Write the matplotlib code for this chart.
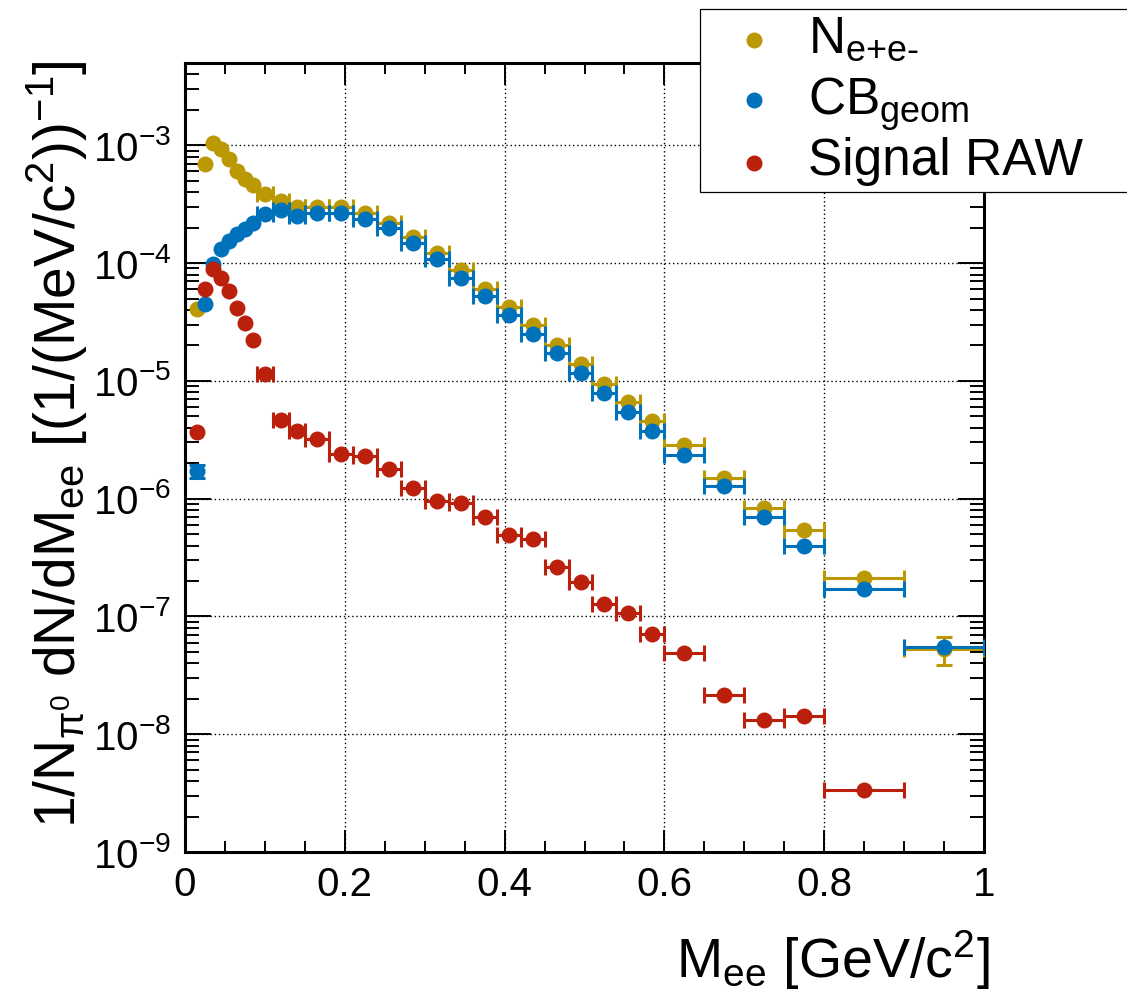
import numpy as np
import matplotlib
matplotlib.use("Agg")
import matplotlib.pyplot as plt
from matplotlib.lines import Line2D
from matplotlib.patches import Rectangle
from matplotlib.ticker import (LogLocator, MultipleLocator, NullFormatter,
                               FuncFormatter, LogFormatterSciNotation)

plt.rcParams["font.family"] = ["Liberation Sans", "DejaVu Sans"]
plt.rcParams["mathtext.fontset"] = "custom"
plt.rcParams["mathtext.rm"] = "Liberation Sans"
plt.rcParams["mathtext.it"] = "Liberation Sans:italic"
plt.rcParams["mathtext.bf"] = "Liberation Sans:bold"
plt.rcParams["mathtext.default"] = "regular"

# ---- binning in M_ee [GeV/c^2] ----
bin_edges = [0.01, 0.02, 0.03, 0.04, 0.05, 0.06, 0.07, 0.08, 0.09,
             0.11, 0.13, 0.15, 0.18, 0.21, 0.24, 0.27, 0.30, 0.33, 0.36,
             0.39, 0.42, 0.45, 0.48, 0.51, 0.54, 0.57, 0.60,
             0.65, 0.70, 0.75, 0.80, 0.90, 1.00]

# ---- spectra: 1/N_pi0 dN/dM_ee ----
n_ee = [4.05e-5, 6.9e-4, 1.04e-3, 9.25e-4, 7.7e-4, 6.05e-4, 5.2e-4, 4.6e-4,
        3.84e-4, 3.4e-4, 3.0e-4, 3.0e-4, 3.0e-4, 2.68e-4, 2.21e-4, 1.68e-4,
        1.21e-4, 8.7e-5, 6.07e-5, 4.22e-5, 3.0e-5, 2.02e-5, 1.38e-5, 9.35e-6,
        6.62e-6, 4.57e-6, 2.86e-6, 1.51e-6, 8.4e-7, 5.43e-7, 2.11e-7, 5.3e-8]
cb_geom = [1.72e-6, 4.47e-5, 9.8e-5, 1.33e-4, 1.54e-4, 1.75e-4, 1.96e-4, 2.21e-4,
           2.6e-4, 2.83e-4, 2.51e-4, 2.65e-4, 2.66e-4, 2.35e-4, 1.97e-4, 1.49e-4,
           1.08e-4, 7.5e-5, 5.26e-5, 3.6e-5, 2.49e-5, 1.72e-5, 1.17e-5, 7.95e-6,
           5.44e-6, 3.76e-6, 2.34e-6, 1.27e-6, 7.05e-7, 3.97e-7, 1.72e-7, 5.51e-8]
signal_raw = [3.69e-6, 6.0e-5, 8.86e-5, 7.5e-5, 5.8e-5, 4.13e-5, 3.08e-5, 2.22e-5,
              1.15e-5, 4.66e-6, 3.76e-6, 3.19e-6, 2.41e-6, 2.31e-6, 1.78e-6, 1.24e-6,
              9.57e-7, 9.27e-7, 7.0e-7, 4.95e-7, 4.55e-7, 2.65e-7, 1.96e-7, 1.27e-7,
              1.06e-7, 7.07e-8, 4.94e-8, 2.16e-8, 1.31e-8, 1.43e-8, 3.35e-9, np.nan]

# statistical errors large enough to show outside the markers (0 = hidden)
n_ee_err = [0] * 31 + [1.45e-8]
cb_geom_err = [2.3e-7] + [0] * 31
signal_raw_err = [0] * 32

series_labels = ["N$_{e\\text{+}e\\text{-}}$", "CB$_{geom}$", "Signal RAW"]
series_colors = ["#bb9905", "#0071bb", "#bb200d"]

x_ticks = [0.0, 0.2, 0.4, 0.6, 0.8, 1.0]
x_title = "M$_{ee}$ [GeV/c$^{2}$]"
y_title = "1/N$_{\\pi^{0}}$ dN/dM$_{ee}$ [(1/(MeV/c$^{2}$))$^{-1}$]"

W, H = 1127, 998
fig = plt.figure(figsize=(W / 100, H / 100), dpi=100)
ax = fig.add_axes([185 / W, 1 - 852 / H, (984 - 185) / W, (852 - 63) / H])

edges = np.asarray(bin_edges)
xc = 0.5 * (edges[:-1] + edges[1:])
xhw = 0.5 * np.diff(edges)
wide = np.diff(edges) > 0.015   # narrow bins: x-error hidden by the marker

lw = 2.2
cap = 5.8
msize = 11.5
for k, (vals, errs, col) in enumerate(zip([n_ee, cb_geom, signal_raw],
                                          [n_ee_err, cb_geom_err, signal_raw_err],
                                          series_colors)):
    v = np.asarray(vals, float)
    e = np.asarray(errs, float)
    ok = np.isfinite(v)
    z = 3 + k
    m = ok & wide
    ax.errorbar(xc[m], v[m], xerr=xhw[m], fmt="none", ecolor=col,
                elinewidth=lw, capsize=cap, capthick=lw, zorder=z)
    my = ok & (e > 0)
    if my.any():
        ax.errorbar(xc[my], v[my], yerr=e[my], fmt="none", ecolor=col,
                    elinewidth=lw, capsize=cap, capthick=lw, zorder=z)
    ax.plot(xc[ok], v[ok], "o", ms=msize, color=col, mec="none",
            zorder=z + 0.5, clip_on=True)

ax.set_xlim(0, 1)
ax.set_yscale("log")
ax.set_ylim(1e-9, 5e-3)

ax.set_xticks(x_ticks)
ax.xaxis.set_minor_locator(MultipleLocator(0.05))
ax.xaxis.set_major_formatter(FuncFormatter(lambda v, p: f"{v:g}"))
ax.yaxis.set_major_locator(LogLocator(base=10, numticks=20))
ax.yaxis.set_minor_locator(LogLocator(base=10, subs=np.arange(2, 10), numticks=20))
ax.yaxis.set_major_formatter(LogFormatterSciNotation())
ax.yaxis.set_minor_formatter(NullFormatter())

ax.tick_params(which="both", direction="in", top=True, right=True,
               width=1.4, colors="black")
ax.tick_params(axis="x", which="major", length=16, labelsize=29, pad=10)
ax.tick_params(axis="x", which="minor", length=8)
ax.tick_params(axis="y", which="major", length=19, labelsize=29, pad=10)
ax.tick_params(axis="y", which="minor", length=10)

for s in ax.spines.values():
    s.set_linewidth(2.2)

ax.grid(True, which="major", color="black", linestyle=(0, (1, 2)),
        linewidth=1.0)
ax.set_axisbelow(True)

fig.text(990 / W, 1 - 978 / H, x_title, ha="right", va="baseline", fontsize=40)
fig.text(57 / W, 1 - 60 / H, y_title, ha="center", va="top", rotation=90,
         fontsize=41)

# legend box
box = Rectangle((700 / W, 1 - 192 / H), 0.5, (192 - 9) / H,
                transform=fig.transFigure, facecolor="white",
                edgecolor="black", linewidth=0.9, zorder=10)
fig.add_artist(box)
for lab, col, ym, yb in zip(series_labels, series_colors,
                            [40, 100, 163], [53, 115, 175]):
    fig.add_artist(Line2D([754 / W], [1 - ym / H], marker="o", ms=msize,
                          color=col, mec="none", transform=fig.transFigure,
                          zorder=11))
    fig.text(808 / W, 1 - yb / H, lab, ha="left", va="baseline",
             fontsize=37, zorder=11)

fig.savefig("out.png", dpi=100)
